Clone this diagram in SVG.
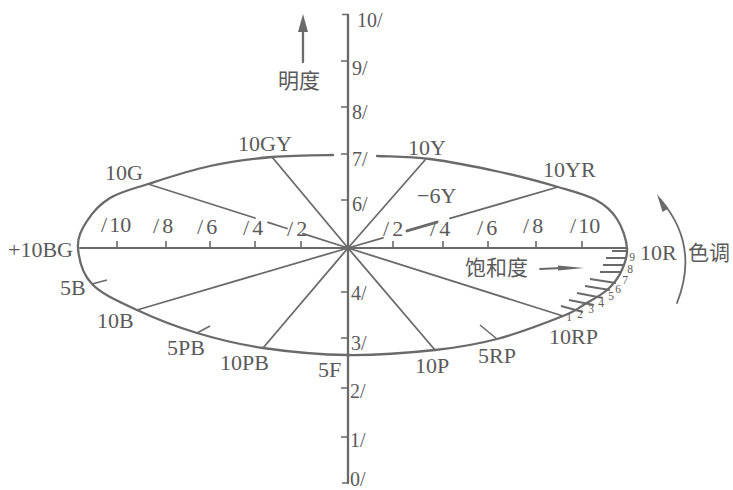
<svg xmlns="http://www.w3.org/2000/svg" width="733" height="490" viewBox="0 0 733 490">
<style>
.ln{fill:none;stroke:#6a6a6a;stroke-width:1.8;stroke-linecap:round}
.th{fill:none;stroke:#6a6a6a;stroke-width:2.3;stroke-linecap:round}
.tk{fill:none;stroke:#6a6a6a;stroke-width:1.6}
.hz{fill:none;stroke:#6a6a6a;stroke-width:3;stroke-linecap:round}
.ah{fill:#6a6a6a}
text{font-family:"Liberation Serif","DejaVu Serif",serif;fill:#5a5a5a}
.lb{font-size:22px}
.ax{font-size:20px}
.sm{font-size:11.5px;text-anchor:middle}
.cj{font-family:"Noto Sans CJK SC","Noto Sans",sans-serif;font-size:21px}
</style>
<rect width="733" height="490" fill="#fff"/>

<g id="lightness-axis">
<path class="th" d="M348,15 V483"/>
<path class="tk" d="M342,14.5 H348 M342,483 H348 M341,61 H348 M341,107 H348 M341,154 H348 M341,200 H348 M341,292 H348 M341,338 H348 M341,388 H348 M341,437 H348"/>
<text class="ax" x="357" y="27">10/</text>
<text class="ax" x="352" y="75">9/</text>
<text class="ax" x="352" y="119">8/</text>
<text class="ax" x="352" y="166">7/</text>
<text class="ax" x="352" y="211">6/</text>
<text class="ax" x="351" y="300">4/</text>
<text class="ax" x="351" y="350">3/</text>
<text class="ax" x="350" y="398">2/</text>
<text class="ax" x="350" y="447">1/</text>
<text class="ax" x="350" y="486">0/</text>
</g>

<g id="lightness-arrow">
<path class="th" d="M303,30 V62"/>
<polygon class="ah" points="303,14 308,32 298,32"/>
<text class="cj" x="278" y="88">明度</text>
</g>

<g id="hue-ellipse">
<path class="th" d="M377,156 C393.17,156.67 409.5,156.33 430,159 C450.5,161.67 478.67,167.33 500,172 C521.33,176.67 542,182.33 558,187 C574,191.67 586.17,194.67 596,200 C605.83,205.33 611.83,211 617,219 C622.17,227 626.33,239.17 627,248 C627.67,256.83 624.33,265 621,272 C617.67,279 613,284.67 607,290 C601,295.33 592.33,299.67 585,304 C577.67,308.33 577.67,310.17 563,316 C548.33,321.83 518.33,333.33 497,339 C475.67,344.67 459.83,347.33 435,350 C410.17,352.67 376.67,355.33 348,355 C319.33,354.67 288.170,351.67 263,348 C237.83,344.33 218,339.33 197,333 C176,326.67 154.5,318.17 137,310 C119.5,301.83 101.83,294.33 92,284 C82.17,273.67 78.83,258.5 78,248 C77.17,237.5 81.67,229.33 87,221 C92.33,212.67 99.83,204.17 110,198 C120.17,191.83 131.33,189.33 148,184 C164.67,178.67 189.33,170.5 210,166 C230.67,161.5 251.5,158.83 272,157 C292.5,155.17 315.5,155.17 333,155"/>
<path class="tk" d="M92,284 L107,280 M197,333 L210,326 M497,339 L480,325"/>
</g>

<g id="saturation-axis">
<path class="ln" d="M80,248 H627"/>
<path class="tk" d="M117,241 V248 M166,241 V248 M210,241 V248 M255,241 V248 M301,241 V248 M393,241 V248 M443,241 V248 M488,241 V248 M536,241 V248 M582,241 V248"/>
<text class="lb" x="101" y="232">/<tspan dx="2">10</tspan></text>
<text class="lb" x="153" y="233">/<tspan dx="3">8</tspan></text>
<text class="lb" x="197" y="234">/<tspan dx="3">6</tspan></text>
<text class="lb" x="243" y="235">/<tspan dx="3">4</tspan></text>
<text class="lb" x="287" y="236">/<tspan dx="3">2</tspan></text>
<text class="lb" x="383" y="236">/<tspan dx="3">2</tspan></text>
<text class="lb" x="430" y="236">/<tspan dx="3">4</tspan></text>
<text class="lb" x="477" y="235">/<tspan dx="3">6</tspan></text>
<text class="lb" x="523" y="233">/<tspan dx="3">8</tspan></text>
<text class="lb" x="570" y="233">/<tspan dx="2">10</tspan></text>
<path class="ln" d="M540,269 L562,268"/>
<polygon class="ah" points="558,265.5 584,268 558,270.5"/>
<text class="cj" x="465" y="275">饱和度</text>
</g>

<g id="connectors">
<path class="ln" d="M272,157 L348,248"/>
<path class="ln" d="M148,184 L255,218 M268,222.4 L287,228.5 M303,233.6 L348,248"/>
<path class="ln" d="M425,160 L348,248"/>
<path class="ln" d="M558,187 L450,218.4 M383,237.8 L348,248"/>
<path class="hz" d="M407,230.9 L437,222.1"/>
<path class="ln" d="M137,310 L348,248"/>
<path class="ln" d="M263,348 L348,248"/>
<path class="ln" d="M435,350 L348,248"/>
<path class="ln" d="M563,316 L348,248"/>
<circle cx="348" cy="248" r="3.2" fill="#6a6a6a"/>
</g>

<g id="hue-scale">
<path class="tk" d="M612,251 L626,251 M606,258 L625,258 M603,265 L623,265 M600,272 L620,272 M590,279 L616,283 M585,286 L610,290 M577,293 L603,298 M569,300 L594,305 M561,306 L583,312" style="stroke-width:2"/>
<text class="sm" x="632" y="261">9</text>
<text class="sm" x="630" y="273">8</text>
<text class="sm" x="625" y="284">7</text>
<text class="sm" x="618" y="293">6</text>
<text class="sm" x="611" y="300">5</text>
<text class="sm" x="601" y="307">4</text>
<text class="sm" x="591" y="313">3</text>
<text class="sm" x="580" y="318">2</text>
<text class="sm" x="569" y="321">1</text>
</g>

<g id="hue-arrow">
<path class="ln" d="M677,303 Q700,245 660,199"/>
<polygon class="ah" points="657,194 668.5,208.5 662.5,212"/>
<text class="lb" x="640" y="260">10R</text>
<text class="cj" x="688" y="260">色调</text>
</g>

<g id="hue-labels">
<text class="lb" x="238" y="151">10GY</text>
<text class="lb" x="105" y="180">10G</text>
<text class="lb" x="408" y="155">10Y</text>
<text class="lb" x="543" y="177">10YR</text>
<text class="lb" x="417" y="203">−6Y</text>
<text class="lb" x="8" y="257">+10BG</text>
<text class="lb" x="60" y="295">5B</text>
<text class="lb" x="97" y="328">10B</text>
<text class="lb" x="167" y="355">5PB</text>
<text class="lb" x="220" y="370">10PB</text>
<text class="lb" x="318" y="377">5F</text>
<text class="lb" x="415" y="373">10P</text>
<text class="lb" x="478" y="363">5RP</text>
<text class="lb" x="549" y="344">10RP</text>
</g>
</svg>
